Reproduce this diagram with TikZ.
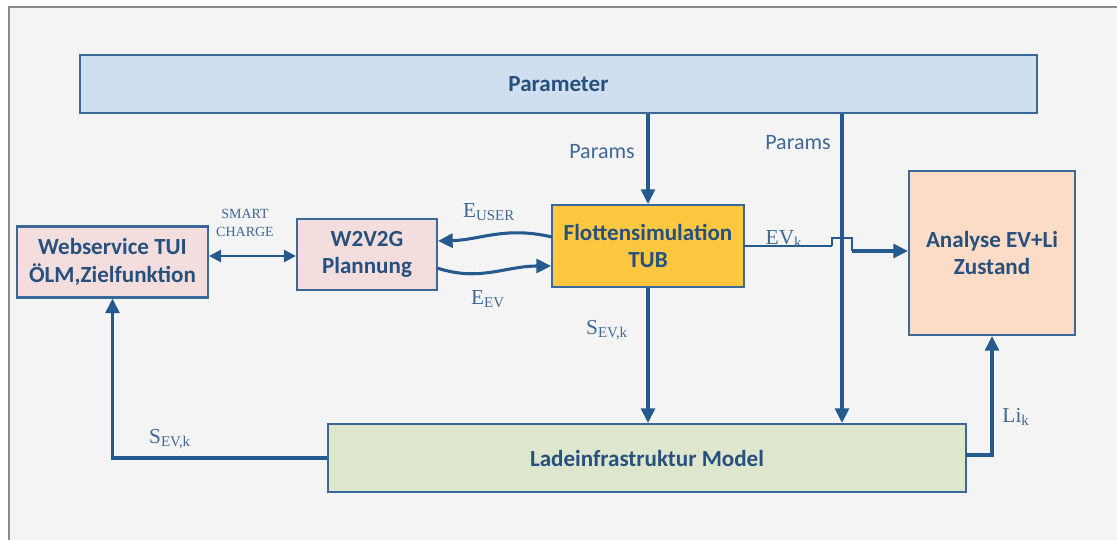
\documentclass[tikz,border=0pt]{standalone}
\usepackage{fontspec}
\newfontfamily\carl{Carlito}
\newfontfamily\serl{Liberation Serif}
\usetikzlibrary{arrows.meta}

\definecolor{framegray}{HTML}{8A8A8A}
\definecolor{bgcol}{HTML}{F4F4F4}
\definecolor{boxline}{HTML}{3A6898}
\definecolor{flowcol}{HTML}{245A8E}
\definecolor{boxtext}{HTML}{26507E}
\definecolor{lbltext}{HTML}{3F6896}
\definecolor{paramfill}{HTML}{CFDFEF}
\definecolor{pinkfill}{HTML}{F4DEDD}
\definecolor{flotfill}{HTML}{FDC740}
\definecolor{peachfill}{HTML}{FCDCC6}
\definecolor{greenfill}{HTML}{DEE6CE}

\tikzset{
  block/.style={draw=boxline, line width=1.6pt, text=boxtext, align=center,
    inner sep=0pt, font=\carl\bfseries\fontsize{17.3}{20.5}\selectfont},
  flow/.style={draw=flowcol, line width=2.3pt,
    -{Triangle[length=11pt,width=10.5pt]}},
  thinflow/.style={draw=flowcol, line width=1.1pt},
  lbl/.style={text=lbltext, inner sep=0pt, font=\carl\fontsize{16.5}{20}\selectfont},
  mlbl/.style={text=lbltext, inner sep=0pt, font=\serl\fontsize{16}{18}\selectfont},
  small/.style={text=lbltext, inner sep=0pt, align=center,
    font=\serl\fontsize{10.5}{14}\selectfont}
}

\begin{document}
\begin{tikzpicture}[x=0.75pt,y=-0.75pt]
  \useasboundingbox (0,0) rectangle (1117,539);
  % outer panel
  \fill[white] (0,0) rectangle (1117,539);
  \draw[framegray, line width=1.2pt, fill=bgcol] (9,7) rectangle (1130,550);

  % blocks
  \node[block, fill=paramfill, minimum width=957*0.75pt, minimum height=58*0.75pt]
    (param) at (558.5,84) {Parameter};
  \node[block, fill=pinkfill, minimum width=191*0.75pt, minimum height=71*0.75pt]
    (web) at (112.5,262) {Webservice TUI\\ÖLM,Zielfunktion};
  \node[block, fill=pinkfill, minimum width=140*0.75pt, minimum height=71*0.75pt]
    (w2v) at (367,254.5) {W2V2G\\Plannung};
  \node[block, fill=flotfill, minimum width=192*0.75pt, minimum height=82*0.75pt]
    (flot) at (648,246) {Flottensimulation\\TUB};
  \node[block, fill=peachfill, minimum width=166*0.75pt, minimum height=164*0.75pt]
    (ana) at (992,253) {Analyse EV+Li\\Zustand};
  \node[block, fill=greenfill, minimum width=638*0.75pt, minimum height=68*0.75pt]
    (lade) at (647,458) {Ladeinfrastruktur Model};

  % parameter feeds
  \draw[flow] (flot.north |- param.south) -- (flot.north);
  \coordinate (pdrop) at (842,0);
  \draw[flow] (param.south -| pdrop) -- (lade.north -| pdrop);
  \node[lbl] (pl1) at (602,152) {Params};
  \node[lbl] (pl2) at (798,143) {Params};

  % fleet simulation to charging infrastructure
  \draw[flow] (flot.south) -- (flot.south |- lade.north);
  \node[mlbl] (s1) at (607,330) {S\textsubscript{EV,k}};

  % charging infrastructure back to the web service
  \draw[flow] (lade.west) -- (lade.west -| web.south) -- (web.south);
  \node[mlbl] (s2) at (170,439) {S\textsubscript{EV,k}};

  % charging infrastructure to analysis
  \coordinate (lout) at (966,455);
  \draw[flow] (lout) -| (ana.south);
  \node[mlbl] (li) at (1016,417) {Li\textsubscript{k}};

  % EV state with a bridge over the parameter line
  \coordinate (ev0) at (744,246);
  \coordinate (hop1) at (832,246);
  \coordinate (hop2) at (832,238);
  \coordinate (hop3) at (852,238);
  \coordinate (hop4) at (852,251);
  \draw[thinflow] (ev0) -- (hop1);
  \draw[draw=flowcol, line width=1.7pt] (hop1) -- (hop2) -- (hop3) -- (hop4);
  \draw[flow] (hop4) -- (ana.west |- hop4);
  \node[mlbl] (evl) at (784,239) {EV\textsubscript{k}};

  % exchange between planning and fleet simulation
  \coordinate (fu) at (552,237);
  \coordinate (wu) at (438,241);
  \coordinate (we) at (437,268);
  \coordinate (fe) at (551,266);
  \draw[flow] (fu) .. controls (505,226) and (480,240) .. (wu);
  \draw[flow] (we) .. controls (480,282) and (505,266) .. (fe);
  \node[mlbl] (eu) at (489,212) {E\textsubscript{USER}};
  \node[mlbl] (ee) at (488,299) {E\textsubscript{EV}};

  % smart charge link
  \draw[draw=flowcol, line width=1.9pt,
    {Triangle[length=9pt,width=9pt]}-{Triangle[length=9pt,width=9pt]}]
    (web.east |- 0,256) -- (w2v.west |- 0,256);
  \node[small] (sc) at (245,223) {SMART\\CHARGE};
\end{tikzpicture}
\end{document}
